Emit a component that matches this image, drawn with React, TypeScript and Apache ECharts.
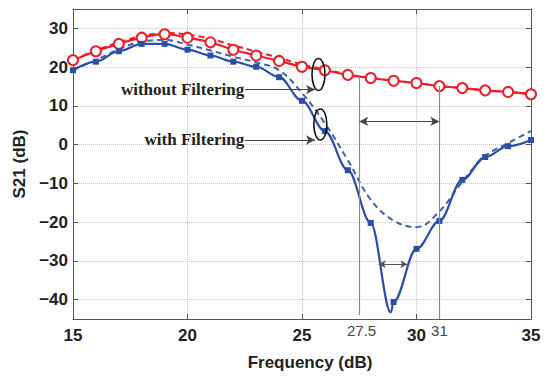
import React, { useEffect, useRef } from "react";
import * as echarts from "echarts";

const freq = [15, 16, 17, 18, 19, 20, 21, 22, 23, 24, 25, 26, 27, 28, 29, 30, 31, 32, 33, 34, 35];
const redMeas = [21.8, 24.1, 26.0, 27.6, 28.5, 27.6, 26.4, 24.5, 23.0, 21.6, 20.1, 19.2, 18.0, 17.2, 16.5, 15.9, 15.1, 14.6, 14.0, 13.6, 13.0];
const redSim = [21.9, 24.3, 26.4, 28.0, 28.8, 28.4, 27.3, 25.6, 24.0, 22.4, 20.7, 19.4, 18.1, 17.2, 16.5, 15.9, 15.1, 14.6, 14.0, 13.6, 13.0];
const blueMeas = [19.2, 21.4, 24.1, 26.0, 26.0, 24.5, 23.0, 21.4, 20.1, 17.4, 11.3, 3.5, -6.6, -20.2, -40.6, -26.9, -19.7, -9.1, -3.2, -0.4, 1.2];
const blueSim = [19.3, 21.8, 24.6, 26.6, 27.0, 25.8, 24.3, 22.7, 21.2, 19.2, 13.3, 5.5, -4.0, -14.2, -19.6, -21.3, -17.2, -9.6, -3.0, 0.4, 3.5];
// tip of the measured notch (curve only, no marker)
const notchTip = [28.88, -43.3];
const yTicks = [-40, -30, -20, -10, 0, 10, 20, 30];
const extraXLabels = [
  { text: "27.5", at: 27.6 },
  { text: "31", at: 31.0 },
];
const vLines = [
  { x: 27.5, top: 17.6, bottom: -44 },
  { x: 31, top: 15.1, bottom: -45 },
];
const annotTexts = [
  { text: "without Filtering", y: 14.2 },
  { text: "with Filtering", y: 1.2 },
];
const arrowX = [22.52, 25.57];
const ellipses = [
  { x: 25.72, y: 18.1, rx: 6.5, ry: 16 },
  { x: 25.8, y: 5.2, rx: 6.5, ry: 15.5 },
];
const bandArrow = { from: 27.5, to: 31, y: 6 };
const notchArrow = { from: 28.35, to: 29.6, y: -30.9 };

const RED = "#e8202a";
const BLUE = "#2c4ea8";
const BLUE_D = "#3f5fb0";
const SANS = "'Liberation Sans', Arial, sans-serif";
const SERIF = "'Liberation Serif', 'Times New Roman', serif";

function pairs(ys: number[]) {
  return freq.map((f, i) => [f, ys[i]]);
}

export default function App() {
  const ref = useRef<HTMLDivElement>(null);
  useEffect(() => {
    if (!ref.current) return;
    const chart = echarts.init(ref.current, undefined, { renderer: "svg" });
    const blueData: any[] = pairs(blueMeas).map((p) => p as any);
    blueData.splice(14, 0, { value: notchTip, symbol: "none" });

    const axisLineStyle = { color: "#555", width: 1 };
    const option: any = {
      animation: false,
      backgroundColor: "#fff",
      grid: { left: 73, right: 15, top: 9, bottom: 49 },
      xAxis: [
        {
          type: "value",
          min: 15,
          max: 35,
          interval: 5,
          position: "bottom",
          axisLine: { show: true, onZero: false, lineStyle: axisLineStyle },
          axisTick: { show: true, inside: true, length: 5, lineStyle: axisLineStyle },
          axisLabel: { fontWeight: "bold", fontSize: 17, color: "#222", margin: 8, fontFamily: SANS },
          splitLine: { show: true, lineStyle: { type: "dotted", color: "#c4c4c4", width: 1 } },
          name: "Frequency (dB)",
          nameLocation: "middle",
          nameGap: 35,
          nameTextStyle: { fontWeight: "bold", fontSize: 17, color: "#222", fontFamily: SANS, padding: [0, 0, 0, 16] },
        },
        {
          type: "value",
          min: 15,
          max: 35,
          interval: 5,
          position: "top",
          axisLine: { show: true, onZero: false, lineStyle: axisLineStyle },
          axisTick: { show: true, inside: true, length: 5, lineStyle: axisLineStyle },
          axisLabel: { show: false },
          splitLine: { show: false },
        },
      ],
      yAxis: [
        {
          type: "value",
          min: -45,
          max: 35,
          position: "left",
          axisLine: { show: true, onZero: false, lineStyle: axisLineStyle },
          axisTick: { show: true, inside: true, length: 5, lineStyle: axisLineStyle, customValues: yTicks },
          axisLabel: {
            fontWeight: "bold",
            fontSize: 17,
            color: "#222",
            margin: 5,
            fontFamily: SANS,
            customValues: yTicks,
            formatter: (v: number) => String(v).replace("-", "\u2212"),
          },
          splitLine: { show: true, lineStyle: { type: "dotted", color: "#c4c4c4", width: 1 } },
          name: "S21 (dB)",
          nameLocation: "middle",
          nameGap: 40,
          nameTextStyle: { fontWeight: "bold", fontSize: 17, color: "#222", fontFamily: SANS },
        },
        {
          type: "value",
          min: -45,
          max: 35,
          position: "right",
          axisLine: { show: true, onZero: false, lineStyle: axisLineStyle },
          axisTick: { show: true, inside: true, length: 5, lineStyle: axisLineStyle, customValues: yTicks },
          axisLabel: { show: false, customValues: yTicks },
          splitLine: { show: false },
        },
      ],
      series: [
        {
          name: "without Filtering (sim)",
          type: "line",
          data: pairs(redSim),
          smooth: 0.4,
          showSymbol: false,
          symbol: "none",
          lineStyle: { color: RED, width: 2, type: [6, 4] },
          z: 3,
        },
        {
          name: "with Filtering (sim)",
          type: "line",
          data: pairs(blueSim),
          smooth: 0.4,
          symbol: "none",
          lineStyle: { color: BLUE_D, width: 2, type: [6, 4] },
          z: 3,
        },
        {
          name: "without Filtering",
          type: "line",
          data: pairs(redMeas),
          smooth: 0.4,
          symbol: "circle",
          symbolSize: 10,
          itemStyle: { color: "#fff", borderColor: RED, borderWidth: 2 },
          lineStyle: { color: RED, width: 2.2 },
          z: 4,
        },
        {
          name: "with Filtering",
          type: "line",
          data: blueData,
          smooth: 0.35,
          smoothMonotone: "x",
          symbol: "rect",
          symbolSize: 6,
          itemStyle: { color: BLUE },
          lineStyle: { color: BLUE, width: 2.2 },
          z: 4,
        },
        {
          name: "annotations",
          type: "line",
          data: [],
          silent: true,
          markLine: {
            silent: true,
            animation: false,
            label: { show: false },
            emphasis: { disabled: true },
            data: [
              ...vLines.map((v) => [
                { coord: [v.x, v.top], symbol: "none", lineStyle: { color: "#8a8a8a", width: 1.2, type: "solid" } },
                { coord: [v.x, v.bottom], symbol: "none" },
              ]),
              ...annotTexts.map((t) => [
                { coord: [arrowX[0], t.y], symbol: "none", lineStyle: { color: "#444", width: 1, type: "solid" } },
                { coord: [arrowX[1], t.y], symbol: "arrow", symbolSize: [7, 9] },
              ]),
              [
                { coord: [bandArrow.from, bandArrow.y], symbol: "arrow", symbolSize: [7, 9], lineStyle: { color: "#444", width: 1, type: "solid" } },
                { coord: [bandArrow.to, bandArrow.y], symbol: "arrow", symbolSize: [7, 9] },
              ],
              [
                { coord: [notchArrow.from, notchArrow.y], symbol: "arrow", symbolSize: [6, 7], lineStyle: { color: "#555", width: 1, type: "solid" } },
                { coord: [notchArrow.to, notchArrow.y], symbol: "arrow", symbolSize: [6, 7] },
              ],
            ],
          },
          z: 5,
        },
      ],
    };
    chart.setOption(option);

    const px = (x: number, y: number) => chart.convertToPixel({ gridIndex: 0 }, [x, y]) as number[];
    const graphics: any[] = [];
    annotTexts.forEach((t) => {
      const p = px(arrowX[0], t.y);
      graphics.push({
        type: "text",
        x: p[0] - 1,
        y: p[1],
        style: {
          text: t.text,
          font: `bold 17px ${SERIF}`,
          fill: "#222",
          align: "right",
          verticalAlign: "middle",
        },
        z: 10,
      });
    });
    ellipses.forEach((e) => {
      const p = px(e.x, e.y);
      graphics.push({
        type: "ellipse",
        shape: { cx: p[0], cy: p[1], rx: e.rx, ry: e.ry },
        style: { fill: "none", stroke: "#111", lineWidth: 1.6 },
        z: 10,
      });
    });
    extraXLabels.forEach((l) => {
      const p = px(l.at, -45);
      graphics.push({
        type: "text",
        x: p[0],
        y: p[1] + 11,
        style: {
          text: l.text,
          font: `15px ${SANS}`,
          fill: "#444",
          align: "center",
          verticalAlign: "middle",
        },
        z: 10,
      });
    });
    chart.setOption({ graphic: graphics });

    return () => chart.dispose();
  }, []);
  return (
    <div
      ref={ref}
      style={{ position: "fixed", left: 0, top: 0, width: 546, height: 376, background: "#fff" }}
    />
  );
}
